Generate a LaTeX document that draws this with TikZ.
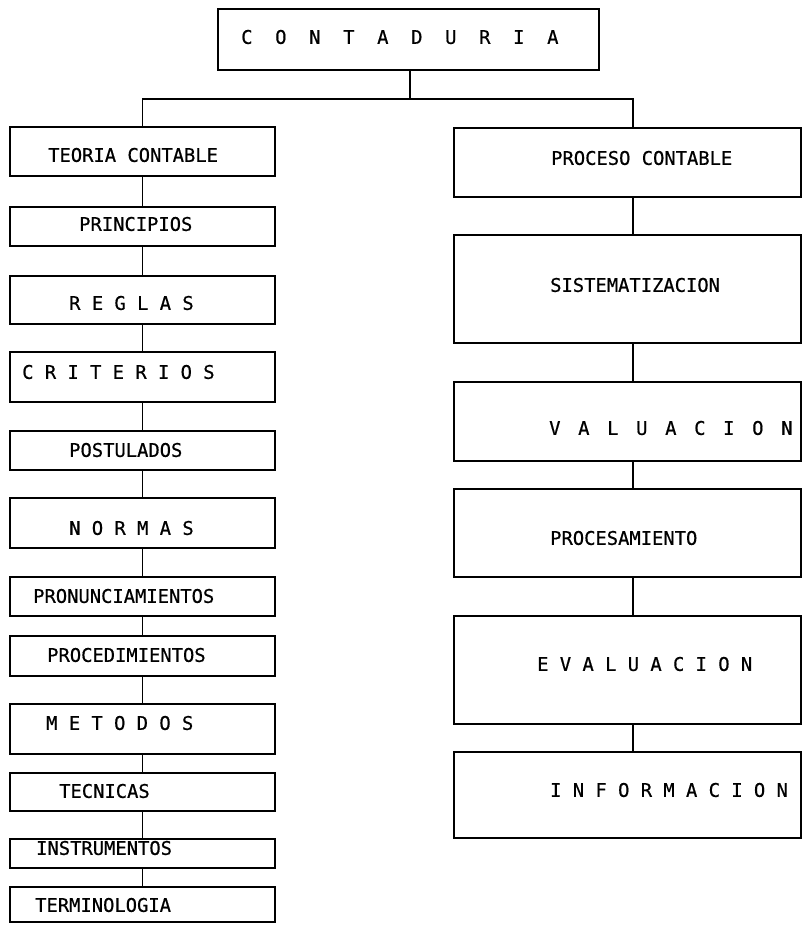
\documentclass[tikz,border=0pt]{standalone}
\usepackage{fontspec}
\setmonofont[FakeBold=0.6]{DejaVu Sans Mono}
% letters set on a fixed pitch
\newcommand\letterpitch[2]{\def\lpw{#1}\lploop#2\relax}
\def\lploop#1{\ifx\relax#1\else\makebox[\lpw][l]{#1}\expandafter\lploop\fi}
\begin{document}
\begin{tikzpicture}[x=1pt,y=-1pt,
  bx/.style={draw,line width=1.5pt,inner sep=0pt},
  lbl/.style={anchor=west,inner sep=0pt,font=\fontsize{18.8}{22}\selectfont\ttfamily,
    text height=13.7pt,text depth=0pt},
  link/.style={line width=1.2pt},
  tree/.style={line width=1.5pt}]
\useasboundingbox (0,0) rectangle (804,925);

% top box
\node[bx,minimum width=381,minimum height=61] (ct) at (408.5,39.5) {};
\node[lbl] (ctT) at (241,37) {\letterpitch{34pt}{CONTADURIA}};

% left column (x 10..275)
\newcommand\lbox[3]{\node[bx,minimum width=265,minimum height={#3-#2}] (#1) at (142.5,{(#2+#3)/2}) {};}
\lbox{tc}{127}{176}
\lbox{pr}{207}{246}
\lbox{rg}{276}{324}
\lbox{cr}{352}{402}
\lbox{po}{431}{470}
\lbox{no}{498}{548}
\lbox{pn}{577}{616}
\lbox{pd}{636}{676}
\lbox{me}{704}{754}
\lbox{te}{773}{811}
\lbox{in}{839}{868}
\lbox{tm}{887}{922}

% right column (x 454..801)
\newcommand\rbox[3]{\node[bx,minimum width=347,minimum height={#3-#2}] (#1) at (627.5,{(#2+#3)/2}) {};}
\rbox{pc}{128}{197}
\rbox{si}{235}{343}
\rbox{va}{382}{461}
\rbox{ps}{489}{577}
\rbox{ev}{616}{724}
\rbox{if}{752}{838}

% labels
\node[lbl] (tcT) at (48,155) {TEORIA CONTABLE};
\node[lbl] (prT) at (79,224) {PRINCIPIOS};
\node[lbl] (rgT) at (69,303) {R E G L A S};
\node[lbl] (crT) at (22,372) {C R I T E R I O S};
\node[lbl] (poT) at (69,450) {POSTULADOS};
\node[lbl] (noT) at (69,528) {N O R M A S};
\node[lbl] (pnT) at (33,596) {PRONUNCIAMIENTOS};
\node[lbl] (pdT) at (47,655) {PROCEDIMIENTOS};
\node[lbl] (meT) at (46,723) {M E T O D O S};
\node[lbl] (teT) at (59,791) {TECNICAS};
\node[lbl] (inT) at (36,848) {INSTRUMENTOS};
\node[lbl] (tmT) at (35,905) {TERMINOLOGIA};

\node[lbl] (pcT) at (551,158) {PROCESO CONTABLE};
\node[lbl] (siT) at (550,285) {SISTEMATIZACION};
\node[lbl] (vaT) at (549,428) {\letterpitch{29pt}{VALUACION}};
\node[lbl] (psT) at (550,538) {PROCESAMIENTO};
\node[lbl] (evT) at (537,664) {E V A L U A C I O N};
\node[lbl] (ifT) at (550,790) {I N F O R M A C I O N};

% main branching
\coordinate (split) at (410,99);
\coordinate (rx) at (633,0);
\draw[tree] (ct.south -| split) -- (split);
\draw[tree] (tc.north) |- (split) -| (pc.north -| rx);

% left chain
\foreach \a/\b in {tc/pr,pr/rg,rg/cr,cr/po,po/no,no/pn,pn/pd,pd/me,me/te,te/in,in/tm}
  \draw[link] (\a.south) -- (\b.north);

% right chain
\foreach \a/\b in {pc/si,si/va,va/ps,ps/ev,ev/if}
  \draw[link] (\a.south -| rx) -- (\b.north -| rx);
\end{tikzpicture}
\end{document}
